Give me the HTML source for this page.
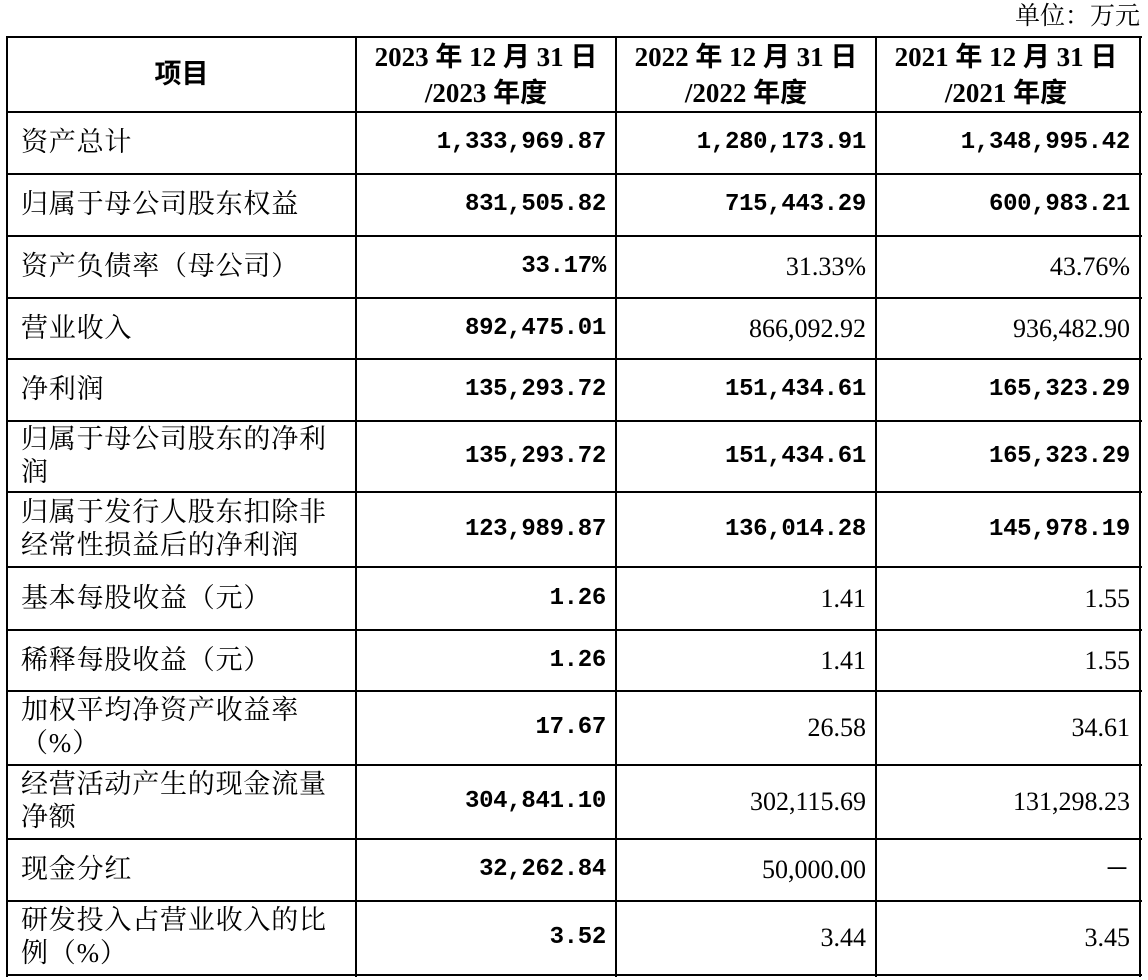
<!DOCTYPE html>
<html><head><meta charset="utf-8"><style>
body{margin:0;width:1148px;height:980px;background:#fff;position:relative;overflow:hidden;font-family:"Liberation Serif","Noto Serif CJK SC",serif;color:#000}
.h{position:absolute;background:#000}
.t{position:absolute;white-space:nowrap;line-height:30px}
.lab{font-family:"Liberation Serif","Noto Serif CJK SC",serif;font-size:27px;line-height:33px;letter-spacing:0.8px}
.b{font-family:"Liberation Mono","Noto Sans CJK SC",monospace;font-weight:bold;font-size:24px;letter-spacing:-0.3px}
.s{font-family:"Liberation Serif",serif;font-size:26px}
.hd{font-weight:bold;text-align:center;font-size:27px;line-height:36px}
</style></head><body>
<div class="t" style="right:8px;top:2px;font-family:'Liberation Serif','Noto Serif CJK SC',serif;font-size:25px">单位：万元</div>
<script>
var X=[7,356,616,876,1140];
var Y=[37,112,174,236,298,359,421,492,567,630,691,765,839,901,975];
var g=document.body;
function add(h){g.insertAdjacentHTML('beforeend',h);}
Y.forEach(function(y){add('<div class="h" style="left:7px;top:'+(y-1)+'px;width:1135px;height:2px"></div>');});
X.forEach(function(x){add('<div class="h" style="left:'+(x-1)+'px;top:36px;width:2px;height:941px"></div>');});
add('<div class="t hd" style="left:7px;width:349px;top:56px;font-family:\'Liberation Sans\',\'Noto Sans CJK SC\',sans-serif">项目</div>');
var hy=['2023','2022','2021'];
for(var i=0;i<3;i++){add('<div class="t hd" style="left:'+X[i+1]+'px;width:260px;top:39px;font-family:\'Liberation Serif\',\'Noto Sans CJK SC\',serif">'+hy[i]+' 年 12 月 31 日<br>/'+hy[i]+' 年度</div>');}
var R=[
['资产总计','1,333,969.87','1,280,173.91','1,348,995.42',3],
['归属于母公司股东权益','831,505.82','715,443.29','600,983.21',3],
['资产负债率（母公司）','33.17%','31.33%','43.76%',1],
['营业收入','892,475.01','866,092.92','936,482.90',1],
['净利润','135,293.72','151,434.61','165,323.29',3],
['归属于母公司股东的净利<br>润','135,293.72','151,434.61','165,323.29',3],
['归属于发行人股东扣除非<br>经常性损益后的净利润','123,989.87','136,014.28','145,978.19',3],
['基本每股收益（元）','1.26','1.41','1.55',1],
['稀释每股收益（元）','1.26','1.41','1.55',1],
['加权平均净资产收益率<br>（%）','17.67','26.58','34.61',1],
['经营活动产生的现金流量<br>净额','304,841.10','302,115.69','131,298.23',1],
['现金分红','32,262.84','50,000.00','－',1],
['研发投入占营业收入的比<br>例（%）','3.52','3.44','3.45',1]];
R.forEach(function(r,k){
 var t=Y[k+1],bt=Y[k+2],c=(t+bt)/2;
 var two=r[0].indexOf('<br>')>=0;
 add('<div class="t lab" style="left:21px;top:'+(c-(two?34:17))+'px">'+r[0]+'</div>');
 for(var j=1;j<=3;j++){
  var bold=j<=r[4];
  add('<div class="t '+(bold?'b':'s')+'" style="right:'+(1148-X[j+1]+10)+'px;top:'+(c-15)+'px">'+r[j]+'</div>');
 }
});
</script>
</body></html>
